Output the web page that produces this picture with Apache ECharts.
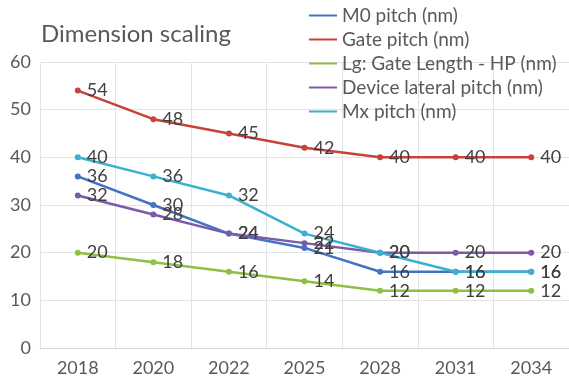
<!DOCTYPE html>
<html>
<head>
<meta charset="utf-8">
<script src="https://cdn.jsdelivr.net/npm/echarts@6/dist/echarts.min.js"></script>
<style>
  html, body { margin: 0; padding: 0; background: #fff; }
  #chart { width: 569px; height: 382px; }
</style>
</head>
<body>
<div id="chart"></div>
<script>
const years = ["2018", "2020", "2022", "2025", "2028", "2031", "2034"];
const m0Pitch = [36, 30, 24, 21, 16, 16, 16];
const gatePitch = [54, 48, 45, 42, 40, 40, 40];
const gateLength = [20, 18, 16, 14, 12, 12, 12];
const deviceLateralPitch = [32, 28, 24, 22, 20, 20, 20];
const mxPitch = [40, 36, 32, 24, 20, 16, 16];

const font = "Lato, 'Open Sans', sans-serif";
const textColor = "#595959";

function makeSeries(name, data, color) {
  return {
    name: name,
    type: "line",
    data: data,
    color: color,
    symbol: "circle",
    symbolSize: 6,
    lineStyle: { width: 2.5, color: color },
    itemStyle: { color: color },
    label: {
      show: true,
      position: "right",
      distance: 6,
      color: "#404040",
      fontFamily: font,
      fontSize: 18,
    },
    emphasis: { disabled: true },
  };
}

const chart = echarts.init(document.getElementById("chart"));

chart.setOption({
  animation: false,
  title: {
    text: "Dimension scaling",
    left: 36,
    top: 17,
    textStyle: { color: textColor, fontFamily: font, fontSize: 24, fontWeight: "normal" },
  },
  legend: {
    orient: "vertical",
    left: 304,
    top: 1,
    itemWidth: 28,
    itemHeight: 10,
    itemGap: 5,
    icon: "path://M0,4L28,4L28,6L0,6Z",
    textStyle: { color: textColor, fontFamily: font, fontSize: 19 },
  },
  grid: { left: 40, right: -6, top: 62, bottom: 34 },
  xAxis: {
    type: "category",
    data: years,
    boundaryGap: true,
    axisLine: { lineStyle: { color: "#D9D9D9" } },
    axisTick: { show: false },
    splitLine: { show: true, lineStyle: { color: "#E3E3E3" } },
    axisLabel: { color: textColor, fontFamily: font, fontSize: 18, margin: 11 },
  },
  yAxis: {
    type: "value",
    min: 0,
    max: 60,
    interval: 10,
    axisLine: { show: false },
    axisTick: { show: false },
    splitLine: { lineStyle: { color: "#E3E3E3" } },
    axisLabel: { color: textColor, fontFamily: font, fontSize: 18, margin: 9 },
  },
  series: [
    makeSeries("M0 pitch (nm)", m0Pitch, "#4472C4"),
    makeSeries("Gate pitch (nm)", gatePitch, "#C9413B"),
    makeSeries("Lg: Gate Length - HP (nm)", gateLength, "#8DC043"),
    makeSeries("Device lateral pitch (nm)", deviceLateralPitch, "#7B5BA8"),
    makeSeries("Mx pitch (nm)", mxPitch, "#3BB0CF"),
  ],
});
</script>
</body>
</html>
